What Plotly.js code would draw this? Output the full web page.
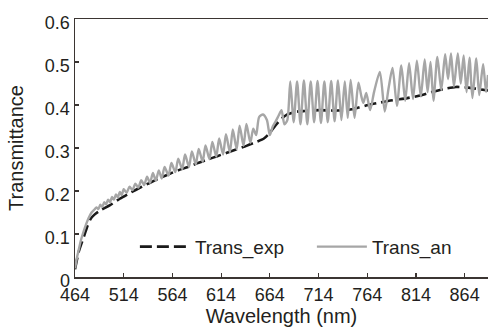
<!DOCTYPE html>
<html>
<head>
<meta charset="utf-8">
<script src="https://cdn.plot.ly/plotly-3.0.1.min.js"></script>
<style>html,body{margin:0;padding:0;background:#fff;}#chart{width:488px;height:328px;}</style>
</head>
<body>
<div id="chart"></div>
<script>
// Trans_exp (black dashed, smooth)
const expWavelength = [464,466,468,471,474,477,480,484,490,500,510,520,530,540,550,560,570,580,590,600,610,620,630,640,650,658,664,670,676,682,690,700,715,730,745,755,765,778,790,805,818,830,842,855,865,875,888];
const expTrans = [0.018,0.04,0.06,0.08,0.10,0.12,0.135,0.145,0.155,0.167,0.182,0.195,0.207,0.218,0.229,0.239,0.248,0.256,0.265,0.273,0.281,0.289,0.297,0.305,0.314,0.322,0.335,0.353,0.368,0.378,0.384,0.386,0.388,0.387,0.389,0.394,0.400,0.406,0.411,0.416,0.422,0.430,0.437,0.442,0.441,0.438,0.434];

// Trans_an (grey, oscillating)
const anWavelength = [464,466,468,470,472,475,478,481,484,486,488,490,492,494,496,498,500,502,504,506,508,510,512,514,517,520,523,526,529,532,535,538,541,544,547,550,553,556,560,563,567,570,574,577,581,584,588,591,595,598,602,605,609,612,616,619,623,626,630,633,637,640,644,647,650,653,657,661,664,667,670,673,676,679,682,685,688.5,692,695.5,699,702.5,706,709.5,713,716.5,720,723.5,727,730.5,734,737.5,741,744,747,751,755,758,760,763,767,771,777,782,786,790,794.5,799,803,807,811,815,819,823,826,829,832,836,840,844,847,850,853,857,860,863,866,869,872,876,879,883,886,888];
const anTrans = [0.02,0.045,0.065,0.085,0.10,0.12,0.137,0.150,0.157,0.162,0.158,0.168,0.163,0.174,0.169,0.180,0.174,0.186,0.180,0.192,0.185,0.198,0.190,0.204,0.196,0.210,0.202,0.217,0.208,0.225,0.214,0.233,0.219,0.242,0.224,0.248,0.229,0.256,0.236,0.265,0.244,0.275,0.251,0.285,0.256,0.292,0.262,0.298,0.268,0.306,0.274,0.314,0.280,0.322,0.285,0.332,0.290,0.343,0.297,0.352,0.305,0.356,0.312,0.345,0.330,0.372,0.378,0.365,0.330,0.350,0.362,0.375,0.388,0.355,0.365,0.455,0.360,0.455,0.355,0.457,0.355,0.455,0.360,0.456,0.358,0.455,0.360,0.456,0.362,0.457,0.365,0.455,0.370,0.458,0.370,0.452,0.420,0.405,0.428,0.388,0.430,0.477,0.385,0.440,0.486,0.398,0.492,0.410,0.497,0.414,0.503,0.420,0.506,0.430,0.500,0.410,0.512,0.435,0.518,0.460,0.520,0.443,0.520,0.450,0.515,0.430,0.510,0.416,0.508,0.423,0.495,0.430,0.470];

const xTicks = [464,514,564,614,664,714,764,814,864];
const yTicks = [0,0.1,0.2,0.3,0.4,0.5,0.6];
const yTickText = ['0','0.1','0.2','0.3','0.4','0.5','0.6'];

const axisColor = '#3b3532';
const textColor = '#231f20';
const font = 'Liberation Sans, Arial, Helvetica, sans-serif';

const traces = [
  {x: expWavelength, y: expTrans, name: 'Trans_exp', type: 'scatter', mode: 'lines',
   line: {color: '#1a1a1a', width: 2.6, dash: '12px,5px', shape: 'spline', smoothing: 0.6}},
  {x: anWavelength, y: anTrans, name: 'Trans_an', type: 'scatter', mode: 'lines',
   line: {color: '#a6a6a6', width: 2.4, shape: 'spline', smoothing: 0.7}}
];

const layout = {
  width: 488, height: 328,
  margin: {l: 75, r: 0, t: 19, b: 51, autoexpand: false},
  paper_bgcolor: '#fff', plot_bgcolor: '#fff',
  font: {family: font, color: textColor, size: 18},
  showlegend: true,
  legend: {orientation: 'h', x: 0.145, y: 0.117, xanchor: 'left', yanchor: 'middle',
           font: {size: 19, color: textColor}, bgcolor: 'rgba(0,0,0,0)', itemwidth: 50,
           entrywidth: 112, entrywidthmode: 'pixels', tracegroupgap: 0},
  xaxis: {range: [464, 888], tickvals: xTicks, ticks: 'inside', ticklen: 4, tickwidth: 1.2,
          tickcolor: axisColor, showline: true, linecolor: axisColor, linewidth: 1.5, mirror: true,
          showgrid: false, zeroline: false, tickfont: {size: 18, color: textColor}, ticklabelstandoff: 1,
          title: {text: 'Wavelength (nm)', font: {size: 20, color: textColor}, standoff: 3}},
  yaxis: {range: [0, 0.6], tickvals: yTicks, ticktext: yTickText, ticks: 'inside', ticklen: 4, tickwidth: 1.2,
          tickcolor: axisColor, showline: true, linecolor: axisColor, linewidth: 1.5, mirror: false,
          showgrid: false, zeroline: false, tickfont: {size: 18, color: textColor}, ticklabelshift: 4,
          title: {text: 'Transmittance', font: {size: 20, color: textColor}, standoff: 16}}
};

Plotly.newPlot('chart', traces, layout, {staticPlot: true, displayModeBar: false});
</script>
</body>
</html>
